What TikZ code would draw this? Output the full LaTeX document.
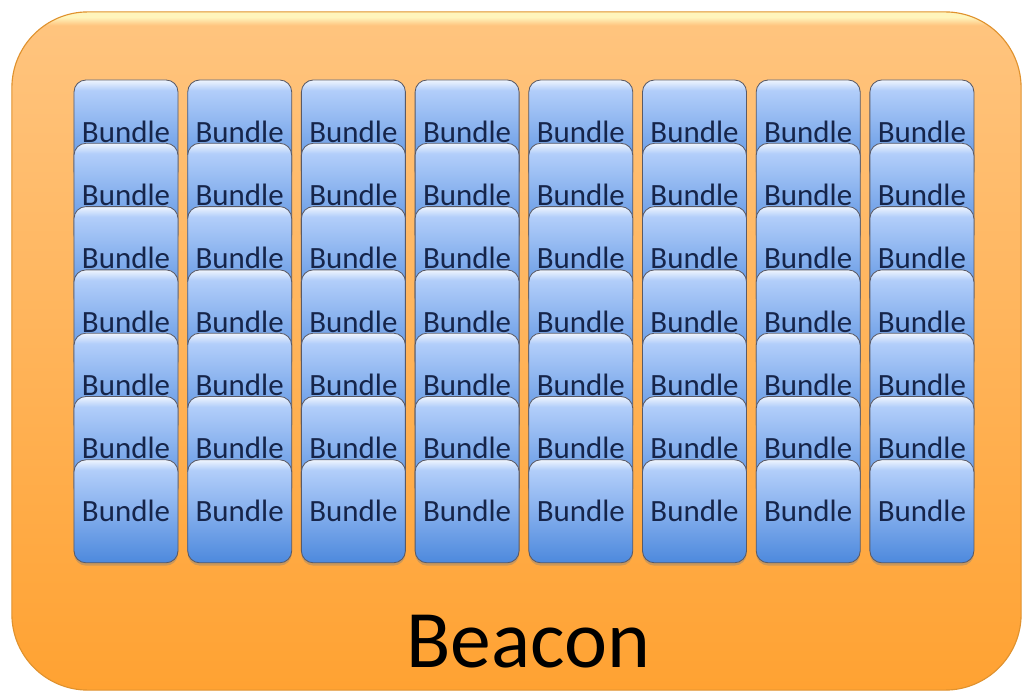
\documentclass[tikz,border=0pt]{standalone}
\usepackage{fontspec}
\setmainfont{Carlito}
\usetikzlibrary{shadows}

\definecolor{beacontop}{HTML}{FFC47E}
\definecolor{beaconbot}{HTML}{FFA232}
\definecolor{beaconline}{HTML}{E0922E}
\definecolor{bundletop}{HTML}{B2CEFA}
\definecolor{bundlebot}{HTML}{4D89DD}
\definecolor{bundleline}{HTML}{5A5A66}
\definecolor{bundletext}{HTML}{16254A}

\pgfdeclareverticalshading{bundleshade}{100bp}{color(0bp)=(bundlebot); color(25bp)=(bundlebot); color(70bp)=(bundletop); color(72.5bp)=(bundletop!60!white); color(75bp)=(white!80!bundletop); color(100bp)=(white!80!bundletop)}
\pgfdeclareverticalshading{beaconshade}{100bp}{color(0bp)=(beaconbot); color(25bp)=(beaconbot); color(74bp)=(beacontop); color(74.6bp)=(beacontop!50!yellow!35!white); color(100bp)=(beacontop!50!yellow!35!white)}

\tikzset{
  beaconbox/.style={draw=beaconline, line width=0.8pt, rounded corners=1.9cm,
    shading=beaconshade,
    minimum width=25.225cm, minimum height=16.95cm, inner sep=0pt},
  bundlebox/.style={draw=bundleline, line width=0.6pt, rounded corners=0.3cm,
    shading=bundleshade,
    minimum width=2.6cm, minimum height=2.575cm, inner sep=0pt,
    text=bundletext, font=\fontsize{22}{24}\selectfont,
    drop shadow={opacity=0.4, shadow xshift=0pt, shadow yshift=-2pt}},
  beaconlabel/.style={font=\fontsize{58}{60}\selectfont, text=black, inner sep=0pt}
}

\begin{document}
\begin{tikzpicture}[x=0.025cm, y=-0.025cm]
\useasboundingbox (0,0) rectangle (1033,695);

% BEACON
\node[beaconbox] (beacon) at (516.5,351) {};

% BUNDLES
\foreach \r in {0,...,6}{
  \foreach \c in {0,...,7}{
    \node[bundlebox] (b-\r-\c) at ({126+113.7*\c},{131.5+63.3*\r}) {Bundle};
  }
}

% NOTES
\node[beaconlabel, anchor=base] (beaconname) at (528,667) {Beacon};

\end{tikzpicture}
\end{document}
